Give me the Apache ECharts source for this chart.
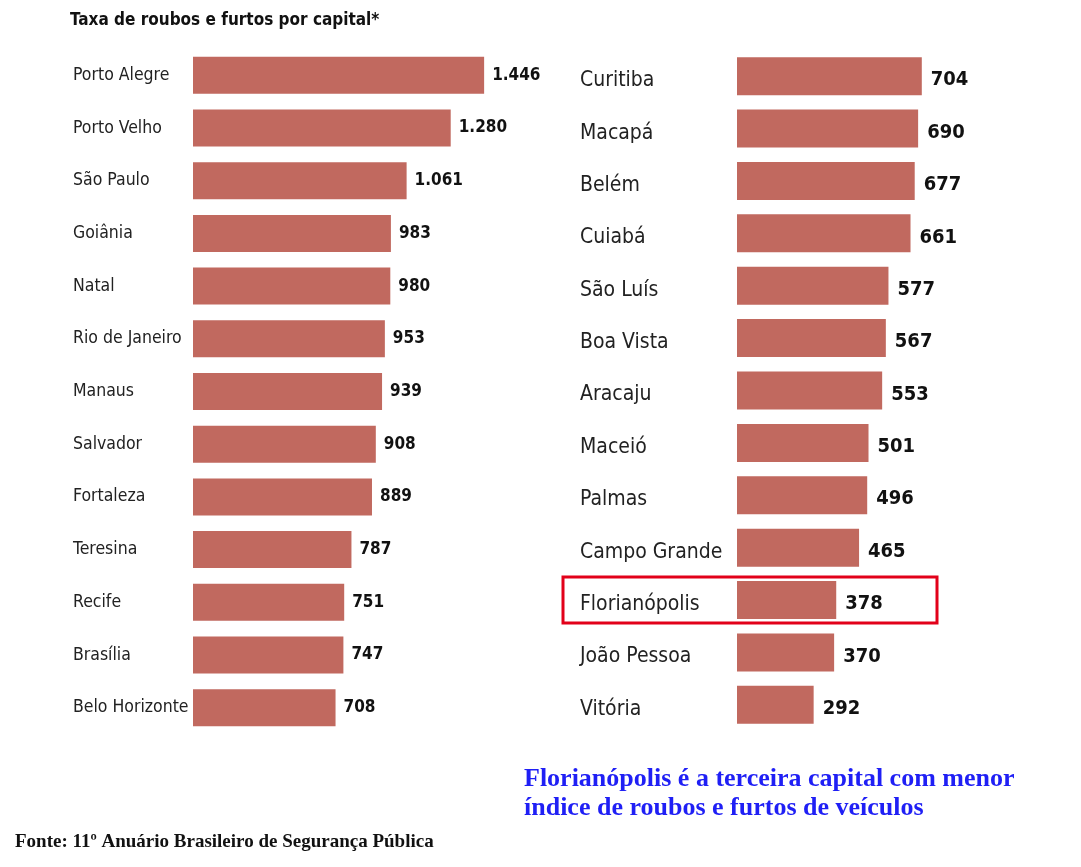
<!DOCTYPE html>
<html>
<head>
<meta charset="utf-8">
<script src="https://cdn.jsdelivr.net/npm/echarts@6/dist/echarts.min.js"></script>
<style>
html,body{margin:0;padding:0;background:#fff;}
#chart{width:1081px;height:867px;}
</style>
</head>
<body>
<div id="chart"></div>
<script>
const citiesLeft = ['Porto Alegre','Porto Velho','São Paulo','Goiânia','Natal','Rio de Janeiro','Manaus','Salvador','Fortaleza','Teresina','Recife','Brasília','Belo Horizonte'];
const valuesLeft = [1446,1280,1061,983,980,953,939,908,889,787,751,747,708];
const citiesRight = ['Curitiba','Macapá','Belém','Cuiabá','São Luís','Boa Vista','Aracaju','Maceió','Palmas','Campo Grande','Florianópolis','João Pessoa','Vitória'];
const valuesRight = [704,690,677,661,577,567,553,501,496,465,378,370,292];
const highlightCity = 'Florianópolis';
const titleText = 'Taxa de roubos e furtos por capital*';
const noteLines = ['Florianópolis é a terceira capital com menor','índice de roubos e furtos de veículos'];
const sourceText = 'Fonte: 11º Anuário Brasileiro de Segurança Pública';

const NARROW = "'Liberation Sans Narrow','DejaVu Sans Condensed','Arial Narrow',sans-serif";
const SERIF = "'Liberation Serif','DejaVu Serif',serif";
const barColor = '#c1695f';
const fmt = v => String(v).replace(/\B(?=(\d{3})+(?!\d))/g, '.');

const chart = echarts.init(document.getElementById('chart'));
chart.setOption({
  backgroundColor: '#fff',
  animation: false,
  grid: [
    {left: 193, top: 49, width: 302, height: 685},
    {left: 737, top: 50, width: 210, height: 681}
  ],
  xAxis: [
    {gridIndex: 0, type: 'value', min: 0, max: 1500, show: false},
    {gridIndex: 1, type: 'value', min: 0, max: 800, show: false}
  ],
  yAxis: [
    {gridIndex: 0, type: 'category', inverse: true, data: citiesLeft,
     axisLine: {show: false}, axisTick: {show: false}, splitLine: {show: false},
     axisLabel: {align: 'left', margin: 120, color: '#222', fontFamily: NARROW, fontSize: 17.5,
                 width: 200, overflow: 'none'}},
    {gridIndex: 1, type: 'category', inverse: true, data: citiesRight,
     axisLine: {show: false}, axisTick: {show: false}, splitLine: {show: false},
     axisLabel: {align: 'left', margin: 157, width: 200, overflow: 'none',
                 formatter: v => '{c|' + v + '}',
                 rich: {c: {color: '#222', fontFamily: NARROW, fontSize: 21, padding: [9,0,0,0]}}}}
  ],
  series: [
    {type: 'bar', xAxisIndex: 0, yAxisIndex: 0, data: valuesLeft, barWidth: 37,
     itemStyle: {color: barColor},
     label: {show: true, position: 'right', distance: 8, formatter: p => fmt(p.value),
             color: '#111', fontWeight: 'bold', fontFamily: NARROW, fontSize: 17}},
    {type: 'bar', xAxisIndex: 1, yAxisIndex: 1, data: valuesRight, barWidth: 38,
     itemStyle: {color: barColor},
     label: {show: true, position: 'right', distance: 9, offset: [0, 4], formatter: p => fmt(p.value),
             color: '#111', fontWeight: 'bold', fontFamily: NARROW, fontSize: 20}}
  ]
});

const cy = chart.convertToPixel({yAxisIndex: 1}, highlightCity);
chart.setOption({
  graphic: [
    {type: 'text', left: 70, top: 12, style: {text: titleText, font: "bold 17px " + NARROW, fill: '#111'}},
    {type: 'rect', shape: {x: 563, y: cy - 23, width: 374, height: 46}, style: {fill: 'none', stroke: '#e2001a', lineWidth: 3}},
    {type: 'text', left: 524, top: 766, style: {text: noteLines[0], font: "bold 26px " + SERIF, fill: '#1f1ff5'}},
    {type: 'text', left: 524, top: 795, style: {text: noteLines[1], font: "bold 26px " + SERIF, fill: '#1f1ff5'}},
    {type: 'text', left: 15, top: 833, style: {text: sourceText, font: "bold 19px " + SERIF, fill: '#111'}}
  ]
});
</script>
</body>
</html>
